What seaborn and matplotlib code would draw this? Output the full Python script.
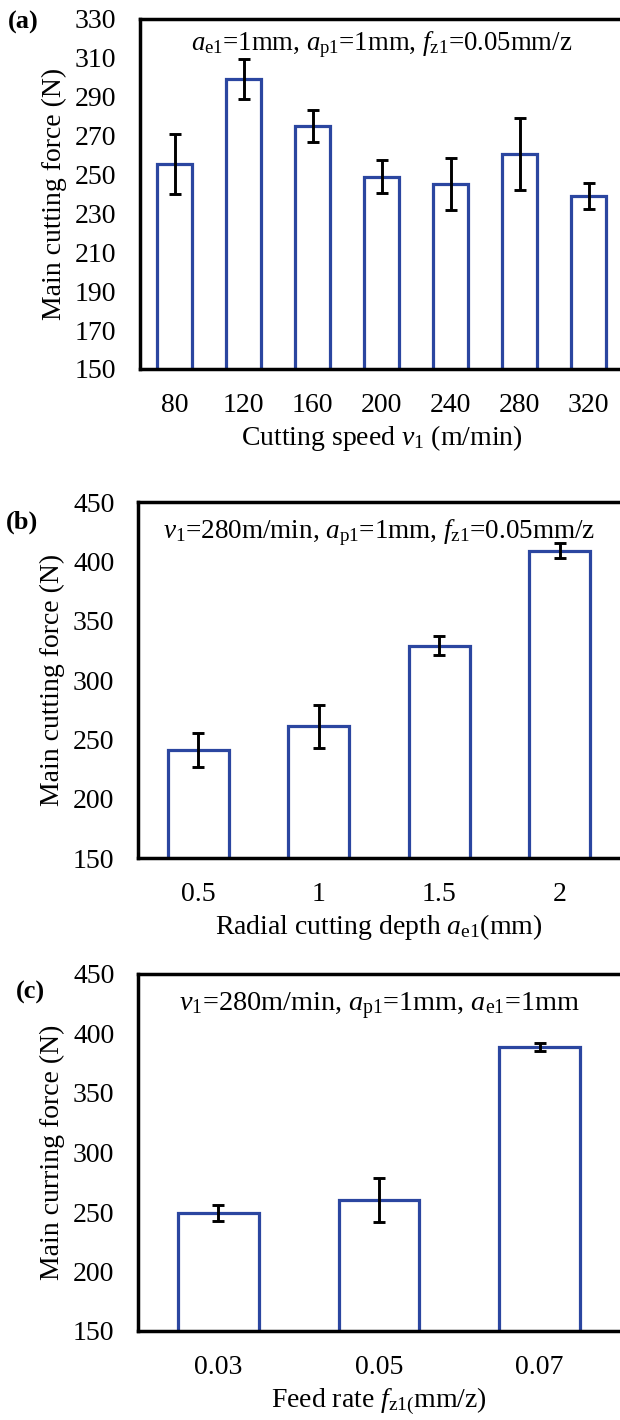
import matplotlib
matplotlib.use("Agg")
import matplotlib.pyplot as plt
import seaborn as sns
import numpy as np

# ---------------- data ----------------
speed_labels = ["80", "120", "160", "200", "240", "280", "320"]
speed_force = [255.5, 299, 275, 249, 245, 260.5, 239]
speed_err = [15.5, 10.3, 8.0, 8.6, 13.4, 18.4, 6.6]

depth_labels = ["0.5", "1", "1.5", "2"]
depth_force = [241, 261, 329, 409]
depth_err = [14.6, 18.3, 8.3, 6.3]

feed_labels = ["0.03", "0.05", "0.07"]
feed_force = [249, 260, 388.5]
feed_err = [6.9, 18.5, 3.2]

sns.set_theme(style="white")
plt.rcParams["font.family"] = ["Liberation Serif", "DejaVu Serif"]
plt.rcParams["mathtext.fontset"] = "custom"
plt.rcParams["mathtext.rm"] = "Liberation Serif"
plt.rcParams["mathtext.it"] = "Liberation Serif:italic"
plt.rcParams["mathtext.bf"] = "Liberation Serif:bold"

BLUE = "#2B46A0"
FS = 20

fig = plt.figure(figsize=(6.2, 14.2), dpi=100)

panels = [
    dict(rect=[140/620, 1-369/1420, 483/620, 350/1420],
         labels=speed_labels, vals=speed_force, errs=speed_err,
         ylim=(150, 330), yticks=np.arange(150, 331, 20),
         width=0.52,
         note=r"$a_{\mathrm{e1}}$=1mm, $a_{\mathrm{p1}}$=1mm, $f_{\mathrm{z1}}$=0.05mm/z",
         note_y=0.927, note_fs=19.3,
         xlabel=r"Cutting speed $v_1$ (m/min)",
         ylabel="Main cutting force (N)", tag="(a)", tagxy=(8, 22)),
    dict(rect=[138/620, 1-858/1420, 482/620, 356/1420],
         labels=depth_labels, vals=depth_force, errs=depth_err,
         ylim=(150, 450), yticks=np.arange(150, 451, 50),
         width=0.51,
         note=r"$v_{\mathrm{1}}$=280m/min, $a_{\mathrm{p1}}$=1mm, $f_{\mathrm{z1}}$=0.05mm/z",
         note_y=0.915, note_fs=19.5,
         xlabel=r"Radial cutting depth $a_{\mathrm{e1}}$(mm)",
         ylabel="Main cutting force (N)", tag="(b)", tagxy=(6, 522)),
    dict(rect=[138/620, 1-1331/1420, 482/620, 357/1420],
         labels=feed_labels, vals=feed_force, errs=feed_err,
         ylim=(150, 450), yticks=np.arange(150, 451, 50),
         width=0.50,
         note=r"$v_{\mathrm{1}}$=280m/min, $a_{\mathrm{p1}}$=1mm, $a_{\mathrm{e1}}$=1mm",
         note_y=0.91, note_fs=20.3,
         xlabel=r"Feed rate $f_{\mathrm{z1(}}$mm/z)",
         ylabel="Main curring force (N)", tag="(c)", tagxy=(16, 992)),
]

for p in panels:
    ax = fig.add_axes(p["rect"])
    sns.barplot(x=p["labels"], y=p["vals"], order=p["labels"], ax=ax,
                color="white", edgecolor=BLUE, linewidth=2.3,
                width=p["width"], errorbar=None)
    ax.errorbar(np.arange(len(p["labels"])), p["vals"], yerr=p["errs"],
                fmt="none", ecolor="black", elinewidth=2.1,
                capsize=4.6, capthick=2.1, zorder=5)
    ax.set_ylim(*p["ylim"])
    ax.set_xlim(-0.5, len(p["labels"]) - 0.5)
    ax.set_yticks(p["yticks"])
    ax.tick_params(axis="both", length=0, labelsize=FS, colors="black")
    ax.tick_params(axis="x", pad=17)
    ax.tick_params(axis="y", pad=17)
    for s in ["left", "top", "bottom"]:
        ax.spines[s].set_color("black")
        ax.spines[s].set_linewidth(2.5)
    ax.spines["right"].set_visible(False)
    ax.set_xlabel(p["xlabel"], fontsize=FS, color="black", labelpad=4)
    ax.set_ylabel(p["ylabel"], fontsize=FS, color="black", labelpad=6)
    ax.text(0.5, p["note_y"], p["note"], transform=ax.transAxes, ha="center",
            va="center", fontsize=p["note_fs"], color="black")
    fig.text(p["tagxy"][0]/620, 1 - p["tagxy"][1]/1420, p["tag"],
             fontsize=19, fontweight="bold", ha="left", va="center",
             color="black")

fig.savefig("out.png", dpi=100)
